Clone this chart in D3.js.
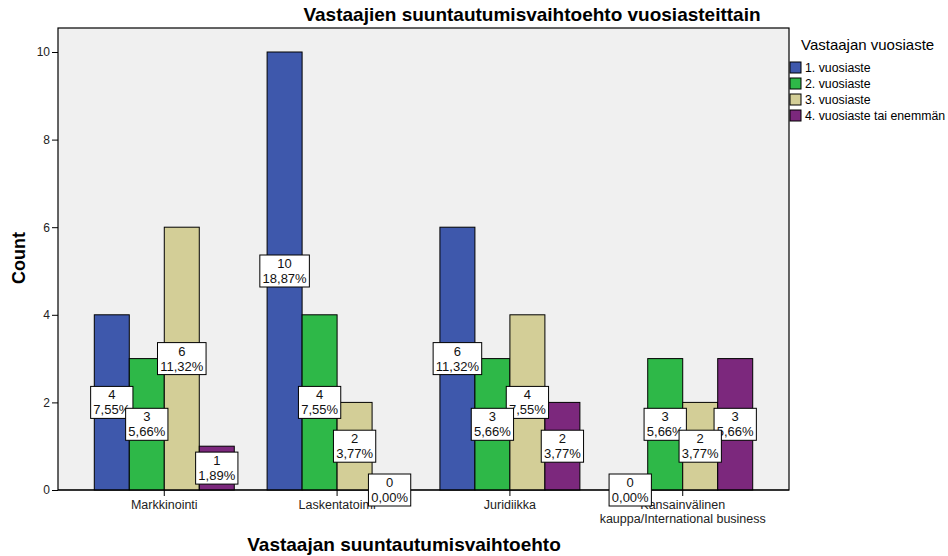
<!DOCTYPE html>
<html>
<head>
<meta charset="utf-8">
<script src="https://cdn.jsdelivr.net/npm/d3@7"></script>
<style>
  body { margin: 0; background: #fff; }
  svg { display: block; font-family: "Liberation Sans", Arial, sans-serif; }
</style>
</head>
<body>
<svg id="chart" width="948" height="556"></svg>
<script>
// Vastaajien suuntautumisvaihtoehto vuosiasteittain -- grouped bar chart

//// DATA ///////////////////////////////////////////////////////////////////////

var categories = ["Markkinointi", "Laskentatoimi", "Juridiikka", "Kansainvälinen kauppa/International business"];
var categoryLines = [["Markkinointi"], ["Laskentatoimi"], ["Juridiikka"], ["Kansainvälinen", "kauppa/International business"]];
var series = ["1. vuosiaste", "2. vuosiaste", "3. vuosiaste", "4. vuosiaste tai enemmän"];
var colors = ["#3e58ac", "#2eb848", "#d3ce97", "#7c287d"];

// counts per series, in category order
var counts = [
	[4, 10, 6, 0],
	[3, 4, 3, 3],
	[6, 2, 4, 2],
	[1, 0, 2, 3]
];
var percents = [
	["7,55%", "18,87%", "11,32%", "0,00%"],
	["5,66%", "7,55%", "5,66%", "5,66%"],
	["11,32%", "3,77%", "7,55%", "3,77%"],
	["1,89%", "0,00%", "3,77%", "5,66%"]
];
var yTicks = [0, 2, 4, 6, 8, 10];

//// LAYOUT /////////////////////////////////////////////////////////////////////

var plot = { left: 58, top: 28, right: 789, bottom: 490 };

var svg = d3.select("#chart");

var x0 = d3.scaleBand()
	.domain(categories)
	.range([plot.left, plot.right])
	.paddingInner(0.19)
	.paddingOuter(0.21);

var x1 = d3.scaleBand()
	.domain(series)
	.range([0, x0.bandwidth()]);

var y = d3.scaleLinear()
	.domain([0, 10])
	.range([plot.bottom, plot.bottom - 438]);

var color = d3.scaleOrdinal().domain(series).range(colors);

// flatten into one row per bar
var bars = [];
categories.forEach(function(c, ci) {
	series.forEach(function(s, si) {
		bars.push({ cat: c, ser: s, value: counts[si][ci], pct: percents[si][ci] });
	});
});

//// PLOT AREA //////////////////////////////////////////////////////////////////

svg.append("rect")
	.attr("x", plot.left)
	.attr("y", plot.top)
	.attr("width", plot.right - plot.left)
	.attr("height", plot.bottom - plot.top)
	.attr("fill", "#f0f0f0")
	.attr("stroke", "#000")
	.attr("stroke-width", 1.2);

svg.append("g").selectAll("rect")
	.data(bars.filter(function(d) { return d.value > 0; }))
	.join("rect")
		.attr("x", function(d) { return x0(d.cat) + x1(d.ser); })
		.attr("y", function(d) { return y(d.value); })
		.attr("width", x1.bandwidth())
		.attr("height", function(d) { return y(0) - y(d.value); })
		.attr("fill", function(d) { return color(d.ser); })
		.attr("stroke", "#000")
		.attr("stroke-width", 1);

//// AXES ///////////////////////////////////////////////////////////////////////

var yAxis = svg.append("g")
	.attr("transform", "translate(" + plot.left + ",0)")
	.call(d3.axisLeft(y).tickValues(yTicks).tickSize(6).tickPadding(2));
yAxis.select(".domain").remove();
yAxis.selectAll("text").style("font-size", "12px").attr("fill", "#222");

var xAxis = svg.append("g")
	.attr("transform", "translate(0," + plot.bottom + ")")
	.call(d3.axisBottom(x0).tickSize(6).tickFormat(""));
xAxis.select(".domain").attr("stroke-width", 1.2).attr("d", "M" + plot.left + ",0H" + plot.right);

xAxis.selectAll(".tick").each(function(d, i) {
	var t = d3.select(this).append("text")
		.attr("fill", "#222")
		.attr("text-anchor", "middle")
		.style("font-size", "12.5px");
	categoryLines[i].forEach(function(line, li) {
		t.append("tspan").attr("x", 0).attr("y", 19 + li * 14).text(line);
	});
});

//// VALUE LABELS ///////////////////////////////////////////////////////////////

var labels = svg.append("g")
	.selectAll("g")
	.data(bars.slice().sort(function(a, b) { return b.value - a.value; }))
	.join("g")
		.attr("transform", function(d) {
			return "translate(" + (x0(d.cat) + x1(d.ser) + x1.bandwidth() / 2) + "," + y(d.value / 2) + ")";
		});

labels.each(function(d) {
	var g = d3.select(this);
	var box = g.append("rect").attr("fill", "#fff").attr("stroke", "#000").attr("stroke-width", 1);
	var t = g.append("text")
		.attr("text-anchor", "middle")
		.style("font-size", "13px")
		.attr("fill", "#111");
	t.append("tspan").attr("x", 0).attr("y", -3).text(d.value);
	t.append("tspan").attr("x", 0).attr("y", 12).text(d.pct);
	var w = t.node().getBBox().width + 5;
	box.attr("x", -w / 2).attr("y", -16).attr("width", w).attr("height", 32);
});

//// TITLES AND LEGEND //////////////////////////////////////////////////////////

svg.append("text")
	.attr("x", 532)
	.attr("y", 21)
	.attr("text-anchor", "middle")
	.style("font-size", "19px")
	.style("font-weight", "bold")
	.text("Vastaajien suuntautumisvaihtoehto vuosiasteittain");

svg.append("text")
	.attr("transform", "translate(25," + 258 + ") rotate(-90)")
	.attr("text-anchor", "middle")
	.style("font-size", "18px")
	.style("font-weight", "bold")
	.text("Count");

svg.append("text")
	.attr("x", 404)
	.attr("y", 551)
	.attr("text-anchor", "middle")
	.style("font-size", "19px")
	.style("font-weight", "bold")
	.text("Vastaajan suuntautumisvaihtoehto");

var legend = svg.append("g").attr("transform", "translate(790,0)");

legend.append("text")
	.attr("x", 11)
	.attr("y", 50)
	.style("font-size", "15px")
	.text("Vastaajan vuosiaste");

var items = legend.selectAll("g.item")
	.data(series)
	.join("g")
		.attr("class", "item")
		.attr("transform", function(d, i) { return "translate(0," + (62 + i * 16) + ")"; });

items.append("rect")
	.attr("width", 11)
	.attr("height", 11)
	.attr("fill", function(d) { return color(d); })
	.attr("stroke", "#000");

items.append("text")
	.attr("x", 15)
	.attr("y", 10)
	.style("font-size", "12.3px")
	.text(function(d) { return d; });
</script>
</body>
</html>
